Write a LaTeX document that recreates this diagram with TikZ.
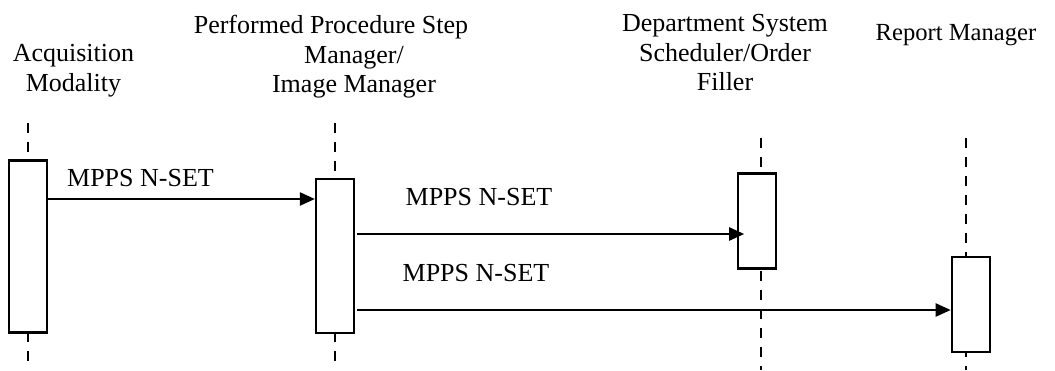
\documentclass[tikz,border=0pt]{standalone}
\usepackage{fontspec}
\setmainfont{Liberation Serif}
\usetikzlibrary{arrows.meta}
\usetikzlibrary{calc,positioning}
\tikzset{%
  >={Triangle[width=6.5pt,length=7.5pt]},
  % Specifications for style of nodes:
  actor/.style = {inner sep=0pt, align=center, anchor=north,
    font=\fontsize{13}{14.75}\selectfont},
  activation/.style = {rectangle, draw=black, fill=white, line width=1.1pt,
    inner sep=0pt, minimum width=19pt},
  msglabel/.style = {inner sep=0pt, anchor=base,
    font=\fontsize{13}{14.75}\selectfont},
  lifeline/.style = {line width=1.1pt, dash pattern=on 4.75pt off 4.75pt},
  message/.style = {->, line width=1.1pt},
}

\begin{document}
\begin{tikzpicture}[x=0.5pt, y=-0.5pt]
  \useasboundingbox (0,0) rectangle (1055,370);
  % Specification of nodes (position, etc.)
  \node(Acq)[actor] at (73.5,44) {Acquisition\\Modality};
  \node(PPS)[actor] at (354,15) {Performed Procedure Step\hspace*{23pt}\\Manager/\\Image Manager};
  \node(DSS)[actor] at (725,14) {Department System\\Scheduler/Order\\Filler};
  \node(Rep)[actor, font=\fontsize{12.3}{14.75}\selectfont] at (956,24) {Report Manager};
  % lifelines
  \coordinate(AcqTop) at (28,123);
  \coordinate(AcqBot) at (28,370);
  \coordinate(PPSTop) at (335,123);
  \coordinate(PPSBot) at (335,370);
  \coordinate(DSSTop) at (761,138);
  \coordinate(DSSBot) at (761,370);
  \coordinate(RepTop) at (966,138);
  \coordinate(RepBot) at (966,370);
  \draw[lifeline](AcqTop) -- (AcqBot);
  \draw[lifeline](PPSTop) -- (PPSBot);
  \draw[lifeline](DSSTop) -- (DSSBot);
  \draw[lifeline](RepTop) -- (RepBot);
  % activation boxes
  \node(ActAcq)[activation, minimum height=86pt] at (27.8,246.5) {};
  \node(ActPPS)[activation, minimum height=77pt] at (335,256.3) {};
  \node(ActDSS)[activation, minimum height=47.5pt] at (757.3,221) {};
  \node(ActRep)[activation, minimum height=47.8pt] at (970.8,304.5) {};
  % messages
  \coordinate(M1) at (0,199);
  \coordinate(M2) at (0,234);
  \coordinate(M3) at (0,310);
  \draw[message](ActAcq.east |- M1) -- (ActPPS.west |- M1);
  \draw[message, shorten <=1pt, shorten >=-3.5pt](ActPPS.east |- M2) -- (ActDSS.west |- M2);
  \draw[message, shorten <=1pt](ActPPS.east |- M3) -- (ActRep.west |- M3);
  \node(Msg1)[msglabel] at (140.5,186) {MPPS N-SET};
  \node(Msg2)[msglabel] at (479,205) {MPPS N-SET};
  \node(Msg3)[msglabel] at (476,281) {MPPS N-SET};
\end{tikzpicture}
\end{document}
